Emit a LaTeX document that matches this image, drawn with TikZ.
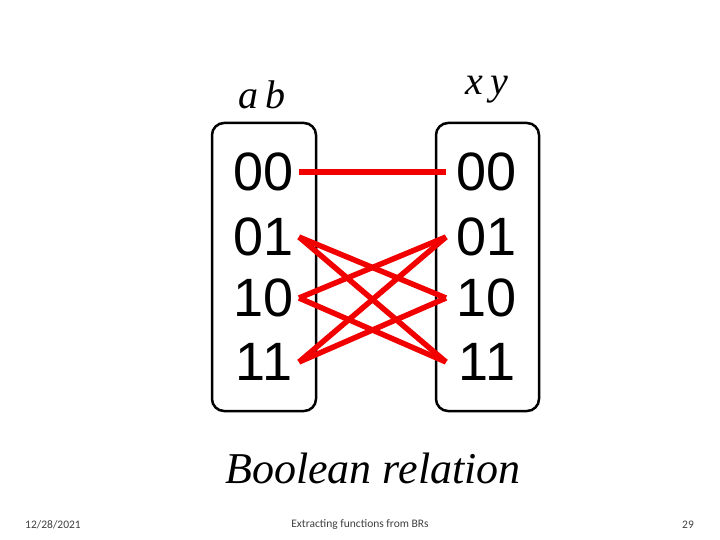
\documentclass[tikz,border=0pt]{standalone}
\usepackage{fontspec}
\setmainfont{Liberation Serif}
\newfontfamily\arial{Liberation Sans}
\newfontfamily\calib{Carlito}
\begin{document}
\begin{tikzpicture}[x=1pt,y=-1pt,
  box/.style={draw,line width=2.5pt,rounded corners=12pt},
  digit/.style={font=\arial\fontsize{54}{54}\selectfont,inner sep=0pt},
  rel/.style={red!95!black,line width=5.5pt},
  foot/.style={font=\calib\fontsize{11.5}{12}\selectfont,text=black!75}]
\useasboundingbox (0,0) rectangle (720,540);
\draw[box] (212,123) rectangle (316,411);
\draw[box] (436,123) rectangle (539,411);
\foreach \t/\y in {00/172,01/237,10/298,11/362}{
  \node[digit] (l\t) at (264,\y) {\t};
  \node[digit] (r\t) at (487,\y) {\t};
  \coordinate (pl\t) at (299,\y);
  \coordinate (pr\t) at (446,\y);
}
\draw[rel] (pl00) -- (pr00);
\draw[rel] (pl01) -- (pr10);
\draw[rel] (pl01) -- (pr11);
\draw[rel] (pl10) -- (pr01);
\draw[rel] (pl10) -- (pr11);
\draw[rel] (pl11) -- (pr01);
\draw[rel] (pl11) -- (pr10);
\node[font=\itshape\fontsize{40}{40}\selectfont] (ab) at (262,95) {a\,b};
\node[font=\itshape\fontsize{40}{40}\selectfont] (xy) at (487,90) {x\,y};
\node[font=\itshape\fontsize{44}{44}\selectfont] (br) at (373,468) {Boolean relation};
\node[foot] (d) at (53,525) {12/28/2021};
\node[foot] (t) at (360,525) {Extracting functions from BRs};
\node[foot] (p) at (688,525) {29};
\end{tikzpicture}
\end{document}
